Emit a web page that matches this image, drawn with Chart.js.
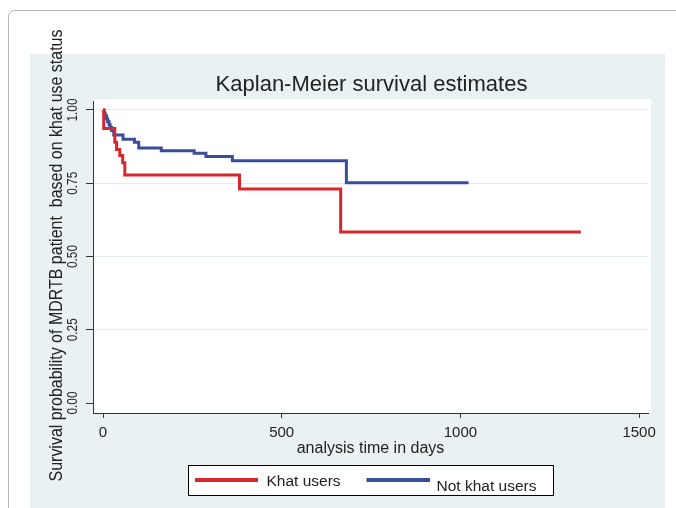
<!DOCTYPE html>
<html><head><meta charset="utf-8">
<script src="https://cdn.jsdelivr.net/npm/chart.js@4.4.0/dist/chart.umd.min.js"></script>
<style>html,body{margin:0;padding:0;background:#fff;} #wrap{width:676px;height:508px;position:relative;}</style>
</head><body><div id="wrap"><canvas id="c" width="676" height="508"></canvas></div>
<script>
// ---- data ----
const khatTimes = [0, 2, 33, 38, 47, 55, 61, 382, 665, 1337];
const khatSurv  = [1.0, 0.937, 0.89, 0.865, 0.845, 0.82, 0.778, 0.73, 0.584, 0.584];
const notKhatTimes = [0, 3, 6, 10, 13, 17, 20, 24, 30, 56, 88, 100, 163, 255, 288, 362, 681, 1023];
const notKhatSurv  = [1.0, 0.99, 0.98, 0.97, 0.96, 0.95, 0.94, 0.93, 0.915, 0.90, 0.89, 0.87, 0.861, 0.852, 0.841, 0.827, 0.752, 0.752];
const seriesNames = ['Khat users', 'Not khat users'];
const xTickValues = [0, 500, 1000, 1500];
const yTickValues = [0, 0.25, 0.5, 0.75, 1.0];
const yTickLabels = ['0.00', '0.25', '0.50', '0.75', '1.00'];
const chartTitle = 'Kaplan-Meier survival estimates';
const xTitle = 'analysis time in days';
const yTitle = 'Survival probability of MDRTB patient  based on khat use status';

const RED = '#d8262d', BLUE = '#3a4d9d', TXT = '#222';
const FAM = "'Liberation Sans', Arial, sans-serif";
Chart.defaults.font.family = FAM;

const toPts = (xs, ys) => xs.map((x, i) => ({x: x, y: ys[i]}));

const bgPlugin = {
  id: 'bg',
  beforeDraw(chart) {
    const c = chart.ctx, a = chart.chartArea;
    c.save();
    c.fillStyle = '#fff'; c.fillRect(0, 0, 676, 508);
    c.strokeStyle = '#b5b5b5'; c.lineWidth = 1;
    c.beginPath(); c.roundRect(8.5, 10.5, 720, 620, 6); c.stroke();
    c.fillStyle = '#eaf1f3'; c.fillRect(30, 54, 635, 460);
    c.fillStyle = '#fff'; c.fillRect(a.left, a.top - 2, a.right - a.left + 3, a.bottom - a.top + 2);
    c.restore();
  }
};

const textPlugin = {
  id: 'texts',
  afterDraw(chart) {
    const c = chart.ctx, ys = chart.scales.y, a = chart.chartArea;
    c.save();
    c.fillStyle = TXT;
    // main title, centred over the plot region
    c.font = '22px ' + FAM;
    c.textAlign = 'center'; c.textBaseline = 'middle';
    c.fillText(chartTitle, (a.left + a.right) / 2 + 1, 85);
    // y axis title
    c.save();
    c.translate(61.5, 255.5); c.rotate(-Math.PI / 2);
    c.font = '18px ' + FAM;
    const w = c.measureText(yTitle).width;
    c.scale(452 / w, 1);
    c.textAlign = 'center'; c.textBaseline = 'alphabetic';
    c.fillText(yTitle, 0, 0);
    c.restore();
    // y tick labels (rotated)
    yTickValues.forEach((v, i) => {
      const py = ys.getPixelForValue(v);
      c.save();
      c.translate(77, py); c.rotate(-Math.PI / 2);
      c.font = '15px ' + FAM;
      const lw = c.measureText('1.00').width;
      c.scale(23 / lw, 1);
      c.textAlign = 'center'; c.textBaseline = 'alphabetic';
      c.fillText(yTickLabels[i], 0, 0);
      c.restore();
    });
    // legend
    c.fillStyle = '#fff'; c.fillRect(188.5, 465.5, 365, 30);
    c.strokeStyle = '#000'; c.lineWidth = 1; c.strokeRect(188.5, 465.5, 365, 30);
    const ds = chart.data.datasets;
    const items = [
      {x0: 195, x1: 258, ly: 480, tx: 266.5, ty: 481.5},
      {x0: 366.5, x1: 430, ly: 480, tx: 436.5, ty: 486.5}
    ];
    items.forEach((it, i) => {
      c.strokeStyle = ds[i].borderColor; c.lineWidth = 4;
      c.beginPath(); c.moveTo(it.x0, it.ly); c.lineTo(it.x1, it.ly); c.stroke();
      c.fillStyle = TXT; c.font = '15.5px ' + FAM;
      c.textAlign = 'left'; c.textBaseline = 'middle';
      c.fillText(ds[i].label, it.tx, it.ty);
    });
    c.restore();
  }
};

new Chart(document.getElementById('c'), {
  type: 'line',
  data: {
    datasets: [
      {label: seriesNames[0], data: toPts(khatTimes, khatSurv), borderColor: RED, backgroundColor: RED,
       borderWidth: 3, stepped: true, pointRadius: 0, fill: false},
      {label: seriesNames[1], data: toPts(notKhatTimes, notKhatSurv), borderColor: BLUE, backgroundColor: BLUE,
       borderWidth: 3, stepped: true, pointRadius: 0, fill: false}
    ]
  },
  options: {
    responsive: false, animation: false, devicePixelRatio: 1,
    layout: {padding: {left: 0, right: 28, top: 101, bottom: 0}},
    plugins: {
      legend: {display: false},
      tooltip: {enabled: false},
      title: {display: false}
    },
    scales: {
      x: {
        type: 'linear', min: -28, max: 1525,
        afterBuildTicks: s => { s.ticks = xTickValues.map(v => ({value: v})); },
        afterFit: s => { s.height = 95; },
        grid: {drawOnChartArea: false, tickLength: 5, tickColor: '#333', tickWidth: 1},
        border: {color: '#333', width: 1},
        ticks: {color: TXT, font: {size: 15}, padding: 6, maxRotation: 0, minRotation: 0,
                callback: v => String(v)},
        title: {display: true, text: xTitle, color: TXT, font: {size: 16}, padding: {top: 0, bottom: 49.5}}
      },
      y: {
        type: 'linear', min: -0.0341, max: 1.0307,
        afterBuildTicks: s => { s.ticks = yTickValues.map(v => ({value: v})); },
        afterFit: s => { s.width = 93; },
        grid: {color: c => (c.tick && c.tick.value > 0 ? '#e4ecef' : 'rgba(0,0,0,0)'),
               tickLength: 7, tickColor: '#333', tickWidth: 1},
        border: {color: '#333', width: 1},
        ticks: {display: false}
      }
    }
  },
  plugins: [bgPlugin, textPlugin]
});
</script>
</body></html>
